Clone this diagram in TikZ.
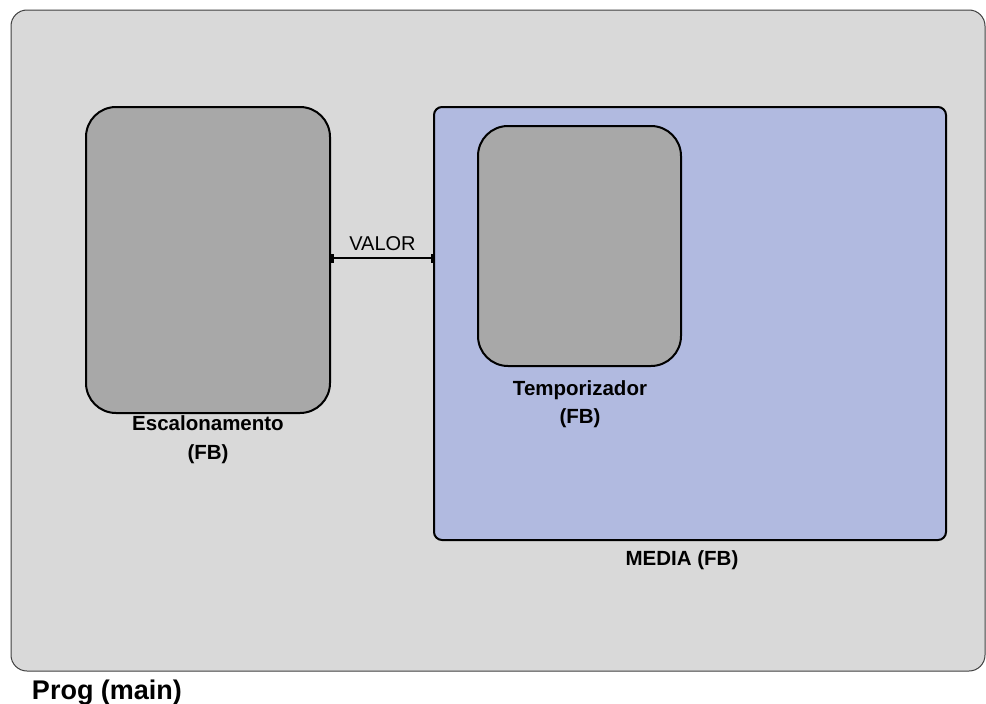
\documentclass[tikz,border=0pt]{standalone}
\usepackage{fontspec}
\setmainfont{Liberation Sans}
\usetikzlibrary{arrows.meta}
\definecolor{panel}{HTML}{D9D9D9}
\definecolor{blockgrey}{HTML}{A8A8A8}
\definecolor{mediablue}{HTML}{B1BAE0}
\tikzset{
  fbbox/.style={draw=black, line width=2pt, fill=blockgrey, rounded corners=30pt},
  fblabel/.style={font=\bfseries\fontsize{20.5}{25}\selectfont, align=center, inner sep=0pt},
}
\begin{document}
\begin{tikzpicture}[x=1pt, y=-1pt]
  \useasboundingbox (0,0) rectangle (986,704);
  \fill[white] (0,0) rectangle (986,704);
  % main program area
  \draw[draw=black!75, line width=1pt, fill=panel, rounded corners=16pt]
    (11,10) rectangle (985,671);
  \node[font=\bfseries\fontsize{27}{32}\selectfont, inner sep=0pt, anchor=base] (prog) at (107,699) {Prog (main)};
  % MEDIA function block
  \draw[draw=black, line width=2pt, fill=mediablue, rounded corners=8pt]
    (434,107) rectangle (946,540);
  \node[fblabel] (medial) at (682,560) {MEDIA (FB)};
  \coordinate (mediaw) at (434,258);
  % Escalonamento function block
  \node[fbbox, minimum width=244pt, minimum height=306pt, inner sep=0pt] (esc) at (208,260) {};
  \node[fblabel] (escl) at (208,440) {Escalonamento\\[4pt](FB)};
  % Temporizador function block
  \node[fbbox, minimum width=203pt, minimum height=240pt, inner sep=0pt] (temp) at (579.5,246) {};
  \node[fblabel] (templ) at (580,404) {Temporizador\\[3pt](FB)};
  % VALOR connection
  \draw[line width=2pt, {Bar[width=9pt,line width=3pt]}-{Bar[width=9pt,line width=3pt]}]
    (esc.east |- mediaw) -- node[above=6pt, font=\fontsize{20}{24}\selectfont, inner sep=0pt] (valor) {VALOR} (mediaw);
\end{tikzpicture}
\end{document}
